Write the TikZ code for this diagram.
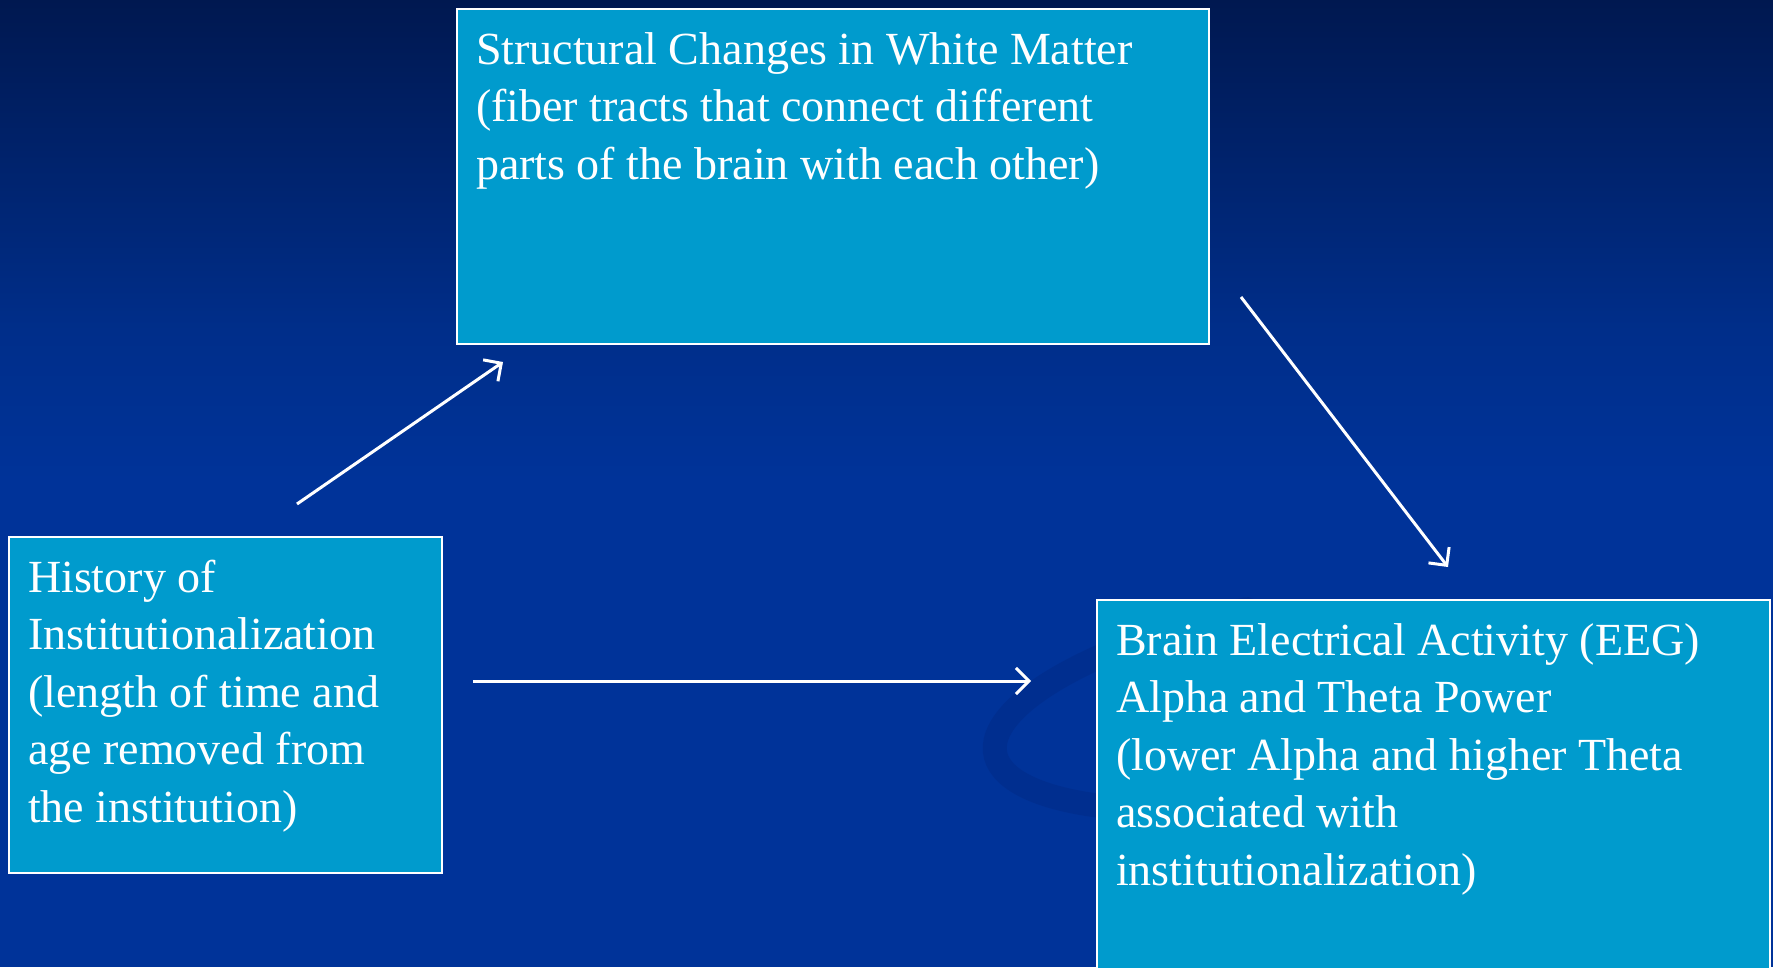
\documentclass[tikz,border=0pt]{standalone}
\usepackage{fontspec}
\setmainfont{Liberation Serif}
\usetikzlibrary{arrows.meta}
\definecolor{bgtop}{RGB}{0,24,80}
\definecolor{bgmid}{RGB}{0,46,138}
\definecolor{bgbot}{RGB}{0,51,153}
\definecolor{boxfill}{RGB}{0,155,205}
\definecolor{swoosh}{RGB}{0,30,110}
\tikzset{
  boxnode/.style={draw=white, line width=2.5pt, fill=boxfill, text=white,
    anchor=north west, inner xsep=19pt, inner ysep=0pt, outer sep=0pt},
  flowarrow/.style={draw=white, line width=3pt,
    -{Straight Barb[length=13pt,width=26pt,line width=3pt]}},
}
\newcommand{\boxtext}[3]{\parbox[t][#2][t]{#1}{\fontsize{46}{57.5}\selectfont\raggedright\rule{0pt}{55pt}#3}}
\begin{document}
\begin{tikzpicture}[x=1pt,y=-1pt]
\clip (0,0) rectangle (1773,967);
\useasboundingbox (0,0) rectangle (1773,967);
% background
\shade[top color=bgtop, bottom color=bgmid] (0,0) rectangle (1773,330);
\shade[top color=bgmid, bottom color=bgbot] (0,330) rectangle (1773,480);
\fill[bgbot] (0,480) rectangle (1773,967);
% swoosh (left part of a faint ring)
\coordinate (sw) at (1320,696);
\draw[swoosh, line width=24pt, opacity=0.22, line cap=round, rotate around={10:(sw)}]
  (sw) ++(100:330 and 100) arc[start angle=100, end angle=260, x radius=330, y radius=100];
% boxes
\node[boxnode] (top) at (457,9) {\boxtext{714pt}{335pt}{Structural Changes in White Matter\\(fiber tracts that connect different\\parts of the brain with each other)}};
\node[boxnode] (left) at (9,537) {\boxtext{395pt}{336pt}{History of\\Institutionalization\\(length of time and\\age removed from\\the institution)}};
\node[boxnode] (right) at (1097,600) {\boxtext{635pt}{420pt}{Brain Electrical Activity (EEG)\\Alpha and Theta Power\\(lower Alpha and higher Theta\\associated with\\institutionalization)}};
% connector ends
\coordinate (a1s) at (297,504);
\coordinate (a1e) at (503,362);
\coordinate (a2s) at (1241,297);
\coordinate (a2e) at (1448,567);
\coordinate (a3s) at (473,681);
\coordinate (a3e) at (1031,681);
\draw[flowarrow] (a1s) -- (a1e);
\draw[flowarrow] (a2s) -- (a2e);
\draw[flowarrow] (a3s) -- (a3e);
\end{tikzpicture}
\end{document}
